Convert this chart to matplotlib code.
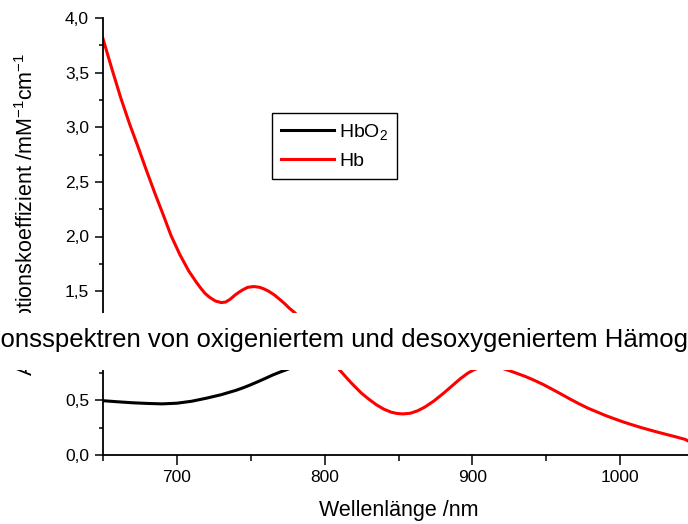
import matplotlib
matplotlib.use("Agg")
import matplotlib.pyplot as plt
from matplotlib.patches import Rectangle
from matplotlib.ticker import FuncFormatter, MultipleLocator

plt.rcParams['font.family'] = ['Liberation Sans', 'DejaVu Sans']
plt.rcParams['mathtext.fontset'] = 'custom'
plt.rcParams['mathtext.rm'] = 'Liberation Sans'
plt.rcParams['mathtext.it'] = 'Liberation Sans'
plt.rcParams['mathtext.default'] = 'regular'

# Hb (desoxygeniert), values
hb_nm = [650, 656, 662, 668, 674, 679, 685, 691, 696, 702, 708, 713, 716, 719,
         722, 726, 730, 733, 736, 739, 742, 745, 748, 752, 756, 759, 762, 766,
         770, 773, 776, 780, 790, 800, 810, 818, 825, 830, 835, 840, 845, 849,
         853, 858, 863, 868, 874, 880, 886, 892, 897, 901, 905, 909, 913, 917,
         921, 925, 930, 936, 942, 948, 954, 960, 966, 972, 978, 984, 990, 996,
         1002, 1008, 1014, 1020, 1026, 1032, 1038, 1044, 1050]
hb_val = [3.81, 3.535, 3.27, 3.03, 2.81, 2.62, 2.40, 2.19, 2.01, 1.835, 1.685,
          1.585, 1.53, 1.48, 1.445, 1.41, 1.395, 1.40, 1.425, 1.46, 1.49, 1.515,
          1.535, 1.542, 1.535, 1.52, 1.50, 1.465, 1.42, 1.385, 1.345, 1.30,
          1.15, 0.97, 0.78, 0.66, 0.565, 0.51, 0.46, 0.42, 0.392, 0.38, 0.376,
          0.382, 0.405, 0.44, 0.495, 0.56, 0.63, 0.70, 0.75, 0.78, 0.80, 0.812,
          0.815, 0.806, 0.79, 0.772, 0.748, 0.718, 0.683, 0.645, 0.602, 0.558,
          0.513, 0.47, 0.43, 0.396, 0.362, 0.332, 0.303, 0.277, 0.252, 0.229,
          0.207, 0.186, 0.165, 0.143, 0.10]

# HbO2 (oxigeniert)
hbo2_nm = [650, 660, 670, 680, 690, 700, 710, 720, 730, 740, 745, 750, 755,
           760, 765, 770, 775, 790, 800, 825, 850, 875, 900, 925, 950, 975,
           1000, 1025, 1050]
hbo2_val = [0.497, 0.487, 0.478, 0.472, 0.468, 0.474, 0.492, 0.52, 0.552,
            0.592, 0.616, 0.643, 0.672, 0.702, 0.733, 0.76, 0.785, 0.86, 0.91,
            1.0, 1.06, 1.11, 1.15, 1.18, 1.17, 1.14, 1.08, 1.01, 0.94]

fig = plt.figure(figsize=(6.88, 5.24), dpi=100)
ax = fig.add_axes([103 / 688, 69 / 524, 591 / 688, 437 / 524])

ax.plot(hbo2_nm, hbo2_val, color='black', lw=2.2, label='HbO$_2$')
ax.plot(hb_nm, hb_val, color='#ff0000', lw=2.2, label='Hb')

ax.set_xlim(650, 1050)
ax.set_ylim(0, 4)
ax.xaxis.set_major_locator(MultipleLocator(100))
ax.xaxis.set_minor_locator(MultipleLocator(50))
ax.yaxis.set_major_locator(MultipleLocator(0.5))
ax.yaxis.set_minor_locator(MultipleLocator(0.25))
ax.yaxis.set_major_formatter(FuncFormatter(lambda v, p: f"{v:.1f}".replace('.', ',')))
ax.xaxis.set_major_formatter(FuncFormatter(lambda v, p: "" if v < 700 else f"{v:.0f}"))

for side in ['top', 'right']:
    ax.spines[side].set_visible(False)
for side in ['left', 'bottom']:
    ax.spines[side].set_linewidth(1.3)
ax.tick_params(axis='both', which='major', labelsize=12.5, width=1.1, pad=4)
ax.tick_params(axis='x', which='major', length=7)
ax.tick_params(axis='x', which='minor', length=4, width=1.1)
ax.tick_params(axis='y', which='major', length=6)
ax.tick_params(axis='y', which='minor', length=3, width=1.1)

ax.set_xlabel('Wellenlänge /nm', fontsize=15.5, va='top')
ax.xaxis.set_label_coords(0.5, -0.103)
ax.set_ylabel('Absorptionskoeffizient /mM$^{-1}$cm$^{-1}$', fontsize=15.5)
ax.yaxis.set_label_coords(-0.107, 0.55)

leg = ax.legend(loc='upper left', bbox_to_anchor=(272 / 688, 411 / 524),
                bbox_transform=fig.transFigure, fontsize=14, frameon=True,
                fancybox=False, framealpha=1, edgecolor='black',
                handlelength=2.75, handletextpad=0.25, borderpad=0.45,
                labelspacing=0.55, borderaxespad=0)
leg.get_frame().set_linewidth(1.0)

# white band with the title laid over the plot
fig.patches.append(Rectangle((0, 154 / 524), 1, 57 / 524, transform=fig.transFigure,
                             facecolor='white', edgecolor='none', zorder=5))
fig.text(324 / 688, 177 / 524,
         'Absorptionsspektren von oxigeniertem und desoxygeniertem Hämoglobin',
         ha='center', va='baseline', fontsize=18.5, zorder=6)

fig.savefig('out.png', dpi=100)
